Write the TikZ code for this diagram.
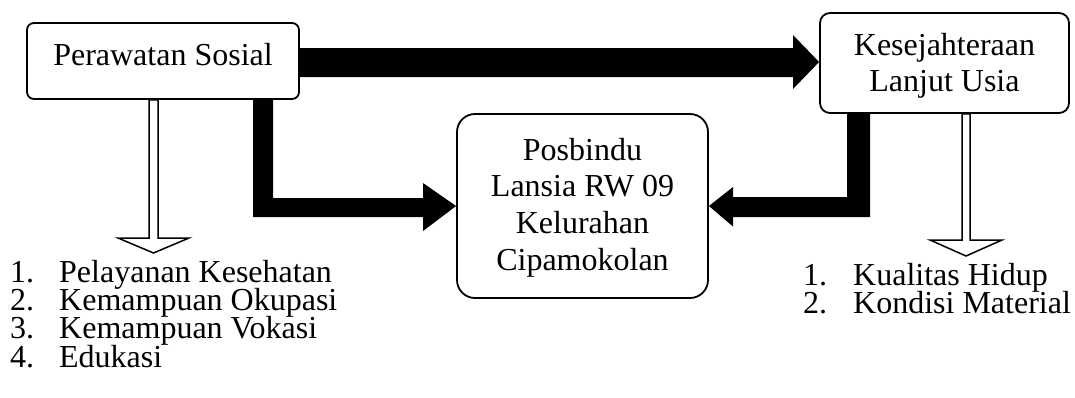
\documentclass[tikz,border=0pt]{standalone}
\usepackage{fontspec}
\setmainfont{Liberation Serif}
\usetikzlibrary{backgrounds}
\begin{document}
\begin{tikzpicture}[x=1pt,y=-1pt,
  boxshape/.style={draw=black,line width=1.8pt,fill=white,rectangle,inner sep=0pt},
  txt/.style={font=\fontsize{32}{36.7}\selectfont,inner sep=0pt,anchor=base},
  listline/.style={font=\fontsize{32}{28.3}\selectfont,inner sep=0pt,anchor=base west,
    text height=21pt,text depth=6pt},
  fatarrow/.style={fill=black},
  hollowarrow/.style={draw=black,line width=1.5pt,fill=white,line join=miter}]
\useasboundingbox (0,0) rectangle (1075,397);

% boxes
\node[boxshape,rounded corners=7pt,minimum width=272pt,minimum height=76pt] (b1) at (163,61) {};
\node[boxshape,rounded corners=10pt,minimum width=249pt,minimum height=100pt] (b2) at (944.5,63) {};
\node[boxshape,rounded corners=18pt,minimum width=251pt,minimum height=184pt] (b3) at (582.5,206) {};

% box texts
\node[txt] (t1) at (163,65) {Perawatan Sosial};
\node[txt] (t2) at (944.5,55) {\begin{tabular}[t]{@{}c@{}}Kesejahteraan\\Lanjut Usia\end{tabular}};
\node[txt] (t3) at (582.5,160) {\begin{tabular}[t]{@{}c@{}}Posbindu\\Lansia RW 09\\Kelurahan\\Cipamokolan\end{tabular}};

% list tips
\coordinate (l1tip) at (153.5,253);
\coordinate (l2tip) at (966,256);

\begin{scope}[on background layer]
  % top fat arrow
  \fill[fatarrow] (b1.east |- 0,48) -- (793,48) -- (793,35) -- (b2.west |- 0,62)
     -- (793,89) -- (793,77) -- (b1.east |- 0,77) -- cycle;
  % left L arrow
  \fill[fatarrow] (253,0 |- b1.south) -- (253,217) -- (423,217) -- (423,231) -- (b3.west)
     -- (423,183) -- (423,198) -- (273,198) -- (273,0 |- b1.south) -- cycle;
  % right L arrow
  \fill[fatarrow] (870,0 |- b2.south) -- (870,217) -- (733,217) -- (733,226.5) -- (b3.east)
     -- (733,187) -- (733,197) -- (847,197) -- (847,0 |- b2.south) -- cycle;
  % hollow arrows
  \draw[hollowarrow] (149,0 |- b1.south) -- (149,238) -- (118,238) -- (l1tip)
     -- (189,238) -- (158,238) -- (158,0 |- b1.south) -- cycle;
  \draw[hollowarrow] (962,0 |- b2.south) -- (962,240) -- (930,240) -- (l2tip)
     -- (1002,240) -- (970,240) -- (970,0 |- b2.south) -- cycle;
\end{scope}

% lists
\node[listline] (p1) at (10,282) {\makebox[49pt][l]{1.}Pelayanan Kesehatan};
\node[listline] (p2) at (10,310.3) {\makebox[49pt][l]{2.}Kemampuan Okupasi};
\node[listline] (p3) at (10,338.6) {\makebox[49pt][l]{3.}Kemampuan Vokasi};
\node[listline] (p4) at (10,367) {\makebox[49pt][l]{4.}Edukasi};
\node[listline] (q1) at (803,285) {\makebox[50pt][l]{1.}Kualitas Hidup};
\node[listline] (q2) at (803,313) {\makebox[50pt][l]{2.}Kondisi Material};
\end{tikzpicture}
\end{document}
